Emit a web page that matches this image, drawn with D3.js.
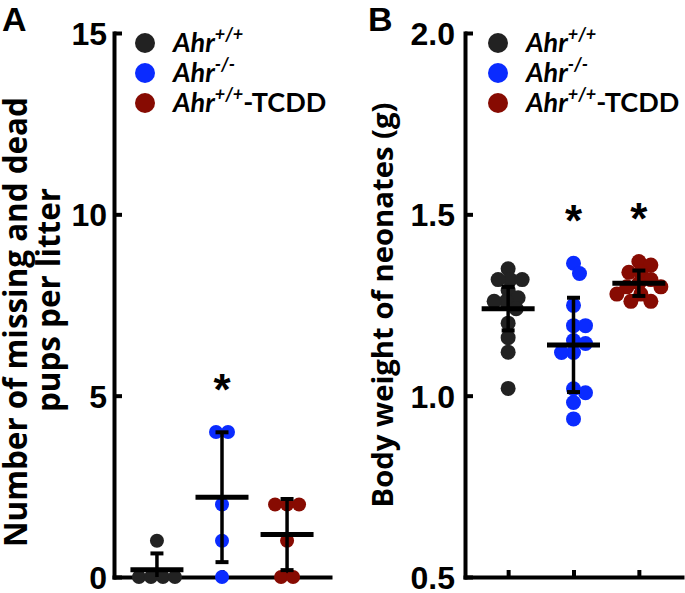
<!DOCTYPE html>
<html><head><meta charset="utf-8">
<script src="https://cdn.jsdelivr.net/npm/d3@7"></script>
<style>body{margin:0;background:#fff}svg{display:block}</style>
</head><body><svg id="c" width="685" height="593"></svg>
<script>
// ---------- data ----------
const groupBase = ["Ahr", "Ahr", "Ahr"];
const groupSup = ["+/+", "-/-", "+/+"];
const groupSuffix = ["", "", "-TCDD"];
const groupColors = ["#222222", "#0a2bff", "#870b02"];

const pupsWT = [0, 0, 0, 0, 1];
const pupsKO = [4, 4, 2, 1, 0];
const pupsTCDD = [2, 2, 2, 1, 0, 0];
const pupsMean = [0.2, 2.2, 1.17];
const pupsErr = [0.45, 1.79, 0.98];
const pupsStar = [false, true, false];
const pupsTicks = [0, 5, 10, 15];

const weightWT = [1.35, 1.32, 1.32, 1.32, 1.29, 1.27, 1.26, 1.26, 1.24, 1.20, 1.16, 1.12, 1.02];
const weightKO = [1.365, 1.337, 1.249, 1.193, 1.193, 1.152, 1.144, 1.119, 1.119, 1.019, 1.008, 0.981, 0.936];
const weightTCDD = [1.37, 1.36, 1.34, 1.34, 1.32, 1.31, 1.30, 1.30, 1.28, 1.28, 1.26, 1.26];
const weightMean = [1.24, 1.14, 1.31];
const weightErr = [0.06, 0.13, 0.035];
const weightStar = [false, true, true];
const weightTicks = [0.5, 1.0, 1.5, 2.0];

// ---------- drawing ----------
const svg = d3.select("#c");
svg.append("rect").attr("width", 685).attr("height", 593).attr("fill", "#fff");

const NUM_FONT = "'Liberation Sans', Arial, sans-serif";
const TXT_FONT = "'Open Sans', Lato, sans-serif";
const LEG_FONT = "Lato, 'Open Sans', sans-serif";

function fitSize(textSel, target, base) {
  textSel.attr("font-size", base);
  const len = textSel.node().getComputedTextLength();
  const s = base * target / len;
  textSel.attr("font-size", s);
  return s;
}

function swarmTies(vals, spacing) {
  const counts = d3.rollup(vals, v => v.length, d => d);
  const seen = new Map();
  return vals.map(v => {
    const n = counts.get(v), i = seen.get(v) || 0;
    seen.set(v, i + 1);
    return (i - (n - 1) / 2) * spacing;
  });
}
function swarmAvoid(vals, yScale, minDist, step) {
  const order = d3.range(vals.length).sort((a, b) => vals[b] - vals[a]);
  const placed = [];
  const off = new Array(vals.length).fill(0);
  order.forEach(i => {
    const y = yScale(vals[i]);
    for (let k = 0; k < 200; k++) {
      const m = Math.ceil(k / 2) * step * (k % 2 ? 1 : -1);
      if (placed.every(p => Math.hypot(p.x - m, p.y - y) >= minDist)) {
        off[i] = m; placed.push({x: m, y: y}); break;
      }
    }
  });
  return off;
}

function panel(opt) {
  const g = svg.append("g");
  const y = d3.scaleLinear().domain(opt.domain).range([577, 33]);
  const x = d3.scaleLinear().domain([-0.66, 2.66]).range([opt.x0, opt.x1]);

  const yAxis = g.append("g").attr("transform", `translate(${opt.x0},0)`)
    .call(d3.axisLeft(y).tickValues(opt.ticks).tickSize(-8).tickSizeOuter(0)
      .tickPadding(opt.pad).tickFormat(opt.fmt));
  const xAxis = g.append("g").attr("transform", `translate(0,577)`)
    .call(d3.axisBottom(x).tickValues([0, 1, 2]).tickSize(-7).tickSizeOuter(0).tickFormat(""));
  [yAxis, xAxis].forEach(a => {
    a.select(".domain").attr("stroke", "#000").attr("stroke-width", 4).attr("stroke-linecap", "square");
    a.selectAll(".tick line").attr("stroke", "#000").attr("stroke-width", 4);
  });
  yAxis.selectAll(".tick text").attr("font-family", NUM_FONT).attr("font-weight", "bold")
    .attr("font-size", 32).attr("fill", "#000").attr("dy", "0.36em");

  opt.series.forEach((vals, gi) => {
    const offs = opt.swarm(vals, y);
    g.append("g").selectAll("circle").data(vals).join("circle")
      .attr("cx", (d, i) => x(gi) + offs[i]).attr("cy", d => y(d))
      .attr("r", opt.r).attr("fill", groupColors[gi]);
  });

  opt.means.forEach((m, gi) => {
    const cx = x(gi);
    const lo = Math.max(m - opt.errs[gi], opt.domain[0]);
    const hi = m + opt.errs[gi];
    const eg = g.append("g").attr("stroke", "#000");
    eg.append("line").attr("x1", cx).attr("x2", cx).attr("y1", y(lo)).attr("y2", y(hi)).attr("stroke-width", 3.5);
    eg.append("line").attr("x1", cx - 6.5).attr("x2", cx + 6.5).attr("y1", y(hi)).attr("y2", y(hi)).attr("stroke-width", 4);
    if (m - opt.errs[gi] > opt.domain[0])
      eg.append("line").attr("x1", cx - 6.5).attr("x2", cx + 6.5).attr("y1", y(lo)).attr("y2", y(lo)).attr("stroke-width", 4);
    eg.append("line").attr("x1", cx - 26.5).attr("x2", cx + 26.5).attr("y1", y(m)).attr("y2", y(m)).attr("stroke-width", 5);
    if (opt.stars[gi]) {
      g.append("text").attr("x", cx).attr("y", y(d3.max(opt.series[gi])) - 52 + 25)
        .attr("text-anchor", "middle").attr("font-family", NUM_FONT).attr("font-weight", "bold")
        .attr("font-size", 44).text("*");
    }
  });

  g.append("text").attr("x", opt.letterX).attr("y", 31).attr("font-family", NUM_FONT)
    .attr("font-weight", "bold").attr("font-size", 34).text(opt.letter);

  const titles = opt.title.map((t) => g.append("text")
    .attr("transform", `translate(${t.bx},${t.cy}) rotate(-90)`)
    .attr("text-anchor", "middle").attr("font-family", TXT_FONT).attr("font-weight", "bold")
    .attr("fill", "#000").text(t.text));
  const fs = fitSize(titles[0], opt.title[0].len, 28);
  titles.forEach(t => t.attr("font-size", fs));

  groupBase.forEach((b, i) => {
    const cy = 43 + i * 30;
    g.append("circle").attr("cx", opt.legX).attr("cy", cy).attr("r", 10).attr("fill", groupColors[i]);
    const t = g.append("text").attr("x", opt.legX + 28).attr("y", cy + 9)
      .attr("font-family", LEG_FONT).attr("font-weight", "bold").attr("font-size", 27).attr("fill", "#000");
    t.append("tspan").attr("font-style", "italic").text(b);
    t.append("tspan").attr("font-style", "italic").attr("font-size", 18).attr("dy", -11).text(groupSup[i]);
    if (groupSuffix[i]) t.append("tspan").attr("dy", 11).text(groupSuffix[i]);
  });
}

panel({
  domain: [0, 15], ticks: pupsTicks, fmt: d3.format("d"), pad: 7,
  x0: 114, x1: 330, r: 7,
  series: [pupsWT, pupsKO, pupsTCDD], means: pupsMean, errs: pupsErr, stars: pupsStar,
  swarm: (vals) => swarmTies(vals, 12),
  letter: "A", letterX: 2, legX: 145,
  title: [{text: "Number of missing and dead", bx: 27, cy: 322, len: 450},
          {text: "pups per litter", bx: 60, cy: 300}]
});
panel({
  domain: [0.5, 2.0], ticks: weightTicks, fmt: d3.format(".1f"), pad: 10,
  x0: 465, x1: 682, r: 7.5,
  series: [weightWT, weightKO, weightTCDD], means: weightMean, errs: weightErr, stars: weightStar,
  swarm: (vals, y) => swarmAvoid(vals, y, 11, 2),
  letter: "B", letterX: 368, legX: 498,
  title: [{text: "Body weight of neonates (g)", bx: 393, cy: 305, len: 405}]
});
</script>
</body></html>
